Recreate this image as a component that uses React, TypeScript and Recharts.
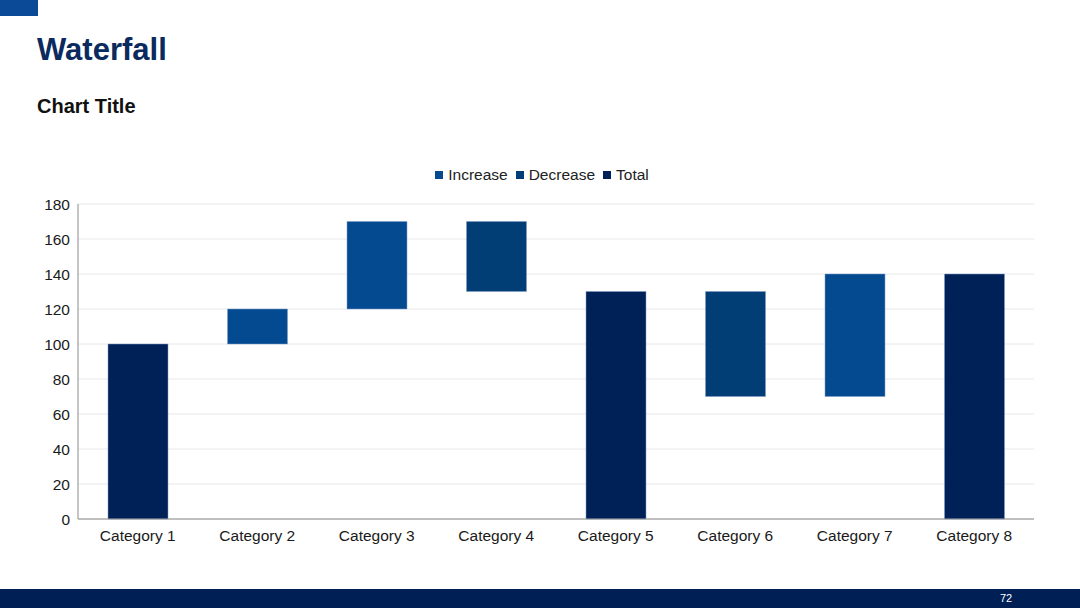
import { BarChart, Bar, XAxis, YAxis, CartesianGrid } from "recharts";

const categories = [
  "Category 1",
  "Category 2",
  "Category 3",
  "Category 4",
  "Category 5",
  "Category 6",
  "Category 7",
  "Category 8",
];
// invisible offset under each floating bar
const baseValues = [0, 100, 120, 130, 0, 70, 70, 0];
const increaseValues = [0, 20, 50, 0, 0, 0, 70, 0];
const decreaseValues = [0, 0, 0, 40, 0, 60, 0, 0];
const totalValues = [100, 0, 0, 0, 130, 0, 0, 140];
const yTicks = [0, 20, 40, 60, 80, 100, 120, 140, 160, 180];

const COLORS = {
  increase: "#044A90",
  decrease: "#023E76",
  total: "#002157",
  title: "#0B2A5E",
};

const data = categories.map((name, i) => ({
  name,
  base: baseValues[i],
  increase: increaseValues[i],
  decrease: decreaseValues[i],
  total: totalValues[i],
}));

const legendItems = [
  { label: "Increase", color: COLORS.increase },
  { label: "Decrease", color: COLORS.decrease },
  { label: "Total", color: COLORS.total },
];

const font = "'Liberation Sans', Arial, sans-serif";

export default function App() {
  return (
    <div
      style={{
        position: "fixed",
        left: 0,
        top: 0,
        width: 1080,
        height: 608,
        background: "#fff",
        fontFamily: font,
        overflow: "hidden",
      }}
    >
      <div style={{ position: "absolute", left: 0, top: 0, width: 38, height: 16, background: "#0A4A96" }} />
      <div
        style={{
          position: "absolute",
          left: 37,
          top: 32,
          fontSize: 31,
          fontWeight: "bold",
          color: COLORS.title,
        }}
      >
        Waterfall
      </div>
      <div
        style={{
          position: "absolute",
          left: 37,
          top: 95,
          fontSize: 20,
          fontWeight: "bold",
          color: "#111",
        }}
      >
        Chart Title
      </div>

      <div
        style={{
          position: "absolute",
          top: 166,
          left: 0,
          width: 1084,
          display: "flex",
          justifyContent: "center",
          gap: 8,
          fontSize: 15.5,
          color: "#222",
        }}
      >
        {legendItems.map((item) => (
          <div key={item.label} style={{ display: "flex", alignItems: "center", gap: 5 }}>
            <span style={{ width: 8, height: 8, background: item.color, display: "inline-block" }} />
            <span>{item.label}</span>
          </div>
        ))}
      </div>

      <div style={{ position: "absolute", left: 0, top: 0 }}>
        <BarChart
          width={1080}
          height={608}
          data={data}
          margin={{ top: 204, right: 46, bottom: 59, left: 0 }}
        >
          <CartesianGrid vertical={false} stroke="#E8E8E8" />
          <XAxis
            dataKey="name"
            height={30}
            tickLine={false}
            tickSize={8}
            tickMargin={3}
            axisLine={{ stroke: "#8C8C8C" }}
            tick={{ fill: "#1a1a1a", fontSize: 15.5, fontFamily: font }}
            interval={0}
          />
          <YAxis
            width={78}
            domain={[0, 180]}
            ticks={yTicks}
            tickLine={false}
            tickSize={6}
            tickMargin={2}
            axisLine={{ stroke: "#8C8C8C" }}
            tick={{ fill: "#1a1a1a", fontSize: 15.5, fontFamily: font }}
            interval={0}
          />
          <Bar dataKey="base" stackId="a" fill="transparent" barSize={60} isAnimationActive={false} />
          <Bar dataKey="increase" stackId="a" fill={COLORS.increase} stroke="#7F9CC8" strokeOpacity={0.5} barSize={60} isAnimationActive={false} />
          <Bar dataKey="decrease" stackId="a" fill={COLORS.decrease} stroke="#7F9CC8" strokeOpacity={0.5} barSize={60} isAnimationActive={false} />
          <Bar dataKey="total" stackId="a" fill={COLORS.total} stroke="#7F9CC8" strokeOpacity={0.5} barSize={60} isAnimationActive={false} />
        </BarChart>
      </div>

      <div
        style={{
          position: "absolute",
          left: 0,
          top: 589,
          width: 1080,
          height: 19,
          background: "#002055",
        }}
      >
        <span
          style={{
            position: "absolute",
            left: 1000,
            top: 3,
            fontSize: 11,
            color: "#fff",
          }}
        >
          72
        </span>
      </div>
    </div>
  );
}
